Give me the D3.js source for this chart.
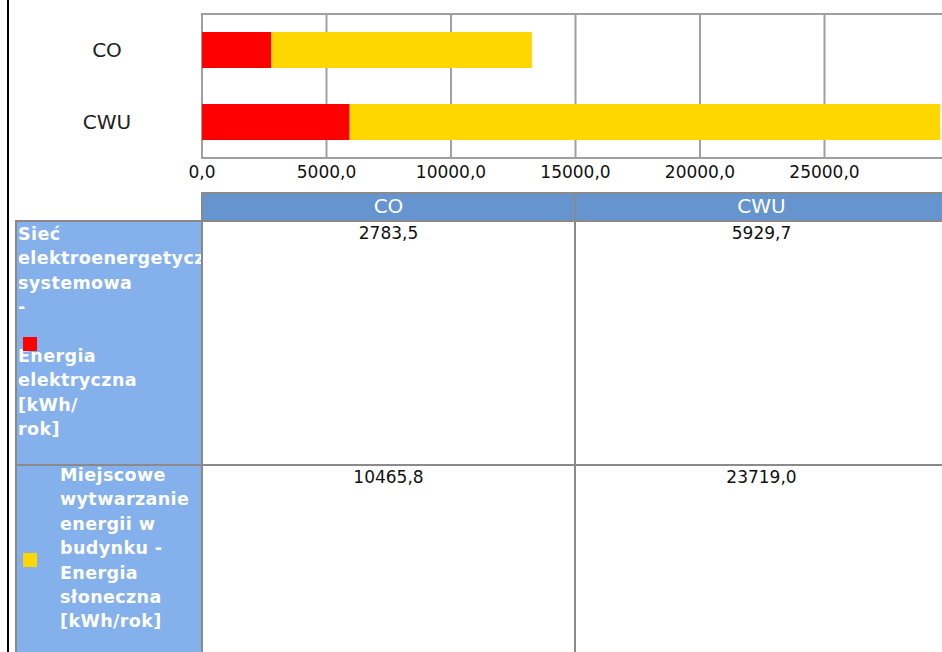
<!DOCTYPE html>
<html>
<head>
<meta charset="utf-8">
<script src="https://cdn.jsdelivr.net/npm/d3@7"></script>
<style>
  body { margin: 0; background: #fff; }
  svg { display: block; font-family: "DejaVu Sans", Verdana, sans-serif; }
</style>
</head>
<body>
<svg id="chart" width="942" height="652"></svg>
<script>
// data
var categories = ["CO", "CWU"];
var seriesKeys = ["elec", "solar"];
var elecValues = [2783.5, 5929.7];
var solarValues = [10465.8, 23719.0];
var tickValues = [0, 5000, 10000, 15000, 20000, 25000];
var seriesColors = ["#ff0000", "#ffd700"];
var rowLabels = [
  ["Sieć", "elektroenergetyczny", "systemowa", "-", "", "Energia", "elektryczna", "[kWh/", "rok]"],
  ["Miejscowe", "wytwarzanie", "energii w", "budynku -", "Energia", "słoneczna", "[kWh/rok]"]
];

var rows = categories.map(function(c, i) { return {cat: c, elec: elecValues[i], solar: solarValues[i]}; });
var stacked = d3.stack().keys(seriesKeys)(rows);

var locale = d3.formatLocale({decimal: ",", thousands: "", grouping: [3], currency: ["", ""]});
var fmt = locale.format(".1f");

var svg = d3.select("#chart");

var x = d3.scaleLinear().domain([0, 30000]).range([202, 949]);
var y = d3.scaleBand().domain(categories).range([14, 158]).paddingInner(0.5).paddingOuter(0.25);

// left frame line
svg.append("line").attr("x1", 8).attr("x2", 8).attr("y1", 0).attr("y2", 652)
    .attr("stroke", "#000").attr("stroke-width", 2);

// grid
svg.append("g").selectAll("line")
    .data(tickValues)
  .enter().append("line")
    .attr("x1", function(d) { return x(d); })
    .attr("x2", function(d) { return x(d); })
    .attr("y1", 14).attr("y2", 158)
    .attr("stroke", "#a0a0a0").attr("stroke-width", 2);

svg.append("path")
    .attr("d", "M942,14H202V158H942")
    .attr("fill", "none").attr("stroke", "#a0a0a0").attr("stroke-width", 2);

// bars
svg.append("g").selectAll("g")
    .data(stacked)
  .enter().append("g")
    .attr("fill", function(d, i) { return seriesColors[i]; })
  .selectAll("rect")
    .data(function(d) { return d; })
  .enter().append("rect")
    .attr("x", function(d) { return x(d[0]); })
    .attr("y", function(d) { return y(d.data.cat); })
    .attr("width", function(d) { return x(d[1]) - x(d[0]); })
    .attr("height", y.bandwidth());

// axes labels
svg.append("g").selectAll("text")
    .data(tickValues)
  .enter().append("text")
    .attr("x", function(d) { return x(d); })
    .attr("y", 178)
    .attr("text-anchor", "middle")
    .attr("font-size", 17)
    .attr("fill", "#111")
    .text(function(d) { return fmt(d); });

svg.append("g").selectAll("text")
    .data(categories)
  .enter().append("text")
    .attr("x", 107)
    .attr("y", function(d) { return y(d) + y.bandwidth() / 2 + 7; })
    .attr("text-anchor", "middle")
    .attr("font-size", 20)
    .attr("fill", "#222")
    .text(function(d) { return d; });

// data table
var col = d3.scaleBand().domain(categories).range([202, 948]);
var rowTop = [221, 465];
var rowH = 244;

svg.append("rect").attr("x", 202).attr("y", 193).attr("width", 746).attr("height", 28)
    .attr("fill", "#6694ce");
svg.append("rect").attr("x", 15).attr("y", 221).attr("width", 187).attr("height", 440)
    .attr("fill", "#84b1ec");

svg.append("g").selectAll("text")
    .data(categories)
  .enter().append("text")
    .attr("x", function(d) { return col(d) + col.bandwidth() / 2; })
    .attr("y", 213)
    .attr("text-anchor", "middle")
    .attr("font-size", 20)
    .attr("fill", "#fff")
    .text(function(d) { return d; });

// table borders
var border = svg.append("g").attr("stroke", "#8a8a8a").attr("stroke-width", 2).attr("fill", "none");
border.append("path").attr("d", "M942,193H202V652");
border.append("path").attr("d", "M942,221H16V652");
border.append("line").attr("x1", col("CWU")).attr("x2", col("CWU")).attr("y1", 193).attr("y2", 652);
border.append("line").attr("x1", 16).attr("x2", 942).attr("y1", 465).attr("y2", 465);

// cell values
stacked.forEach(function(s, si) {
  svg.append("g").selectAll("text")
      .data(s)
    .enter().append("text")
      .attr("x", function(d) { return col(d.data.cat) + col.bandwidth() / 2; })
      .attr("y", rowTop[si] + 18)
      .attr("text-anchor", "middle")
      .attr("font-size", 17)
      .attr("fill", "#111")
      .text(function(d) { return fmt(d.data[s.key]); });
});

// row headers
svg.append("clipPath").attr("id", "rowclip")
  .append("rect").attr("x", 16).attr("y", 221).attr("width", 185).attr("height", 440);

var rowStartX = [18, 60];
var rowFirstBase = [240, 481];
rowLabels.forEach(function(lines, ri) {
  svg.append("text")
      .attr("clip-path", "url(#rowclip)")
      .attr("font-size", 17.5)
      .attr("font-weight", "bold")
      .attr("letter-spacing", 0.4)
      .attr("fill", "#fff")
    .selectAll("tspan")
      .data(lines)
    .enter().append("tspan")
      .attr("x", rowStartX[ri])
      .attr("y", function(d, i) { return rowFirstBase[ri] + i * 24.4; })
      .text(function(d) { return d; });
});

// legend swatches
svg.append("g").selectAll("rect")
    .data(seriesColors)
  .enter().append("rect")
    .attr("x", 23)
    .attr("y", function(d, i) { return [337, 553][i]; })
    .attr("width", 14).attr("height", 14)
    .attr("fill", function(d) { return d; });
</script>
</body>
</html>
